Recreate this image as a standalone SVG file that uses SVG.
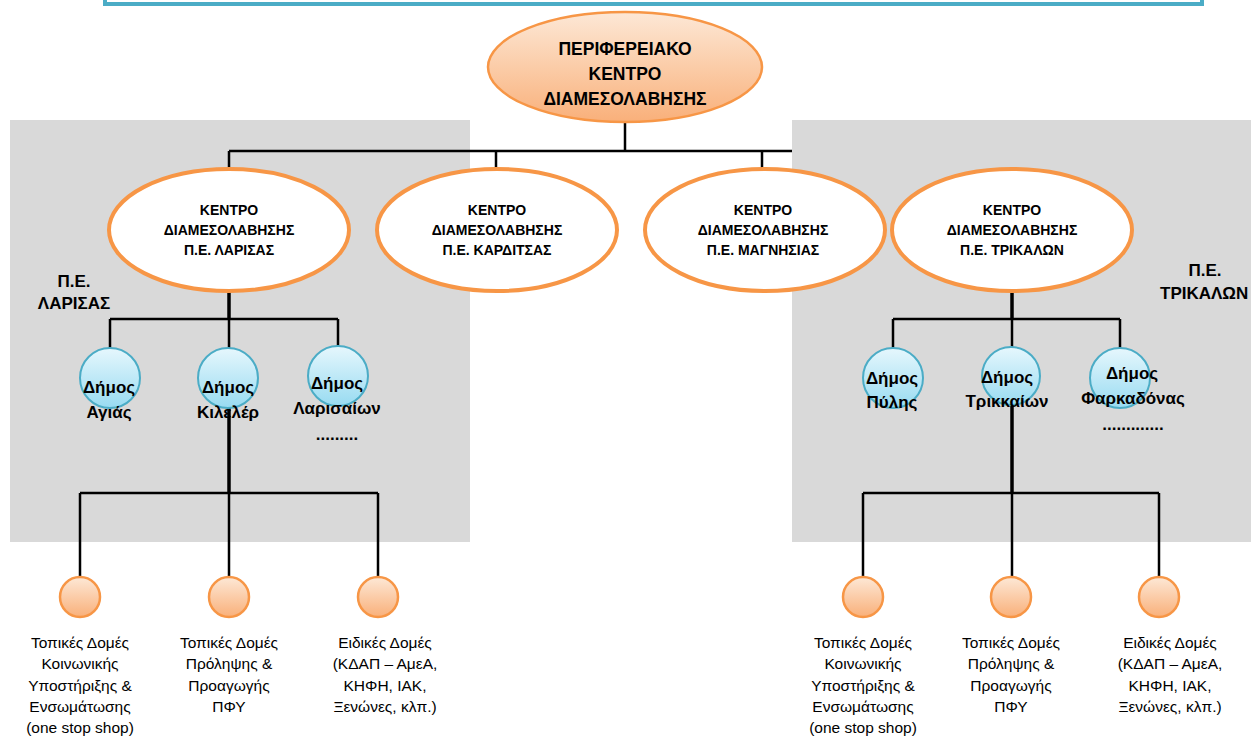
<svg xmlns="http://www.w3.org/2000/svg" width="1251" height="736" viewBox="0 0 1251 736">
<defs>
<linearGradient id="gOr" x1="0" y1="0" x2="0" y2="1">
<stop offset="0" stop-color="#FDE8D6"/>
<stop offset="1" stop-color="#F9B07A"/>
</linearGradient>
<linearGradient id="gBl" x1="0" y1="0" x2="0" y2="1">
<stop offset="0" stop-color="#E6F7FD"/>
<stop offset="1" stop-color="#98DBF1"/>
</linearGradient>
<style>
.zone{fill:#D9D9D9}
.top{fill:url(#gOr);stroke:#F79646;stroke-width:2.5}
.lvl2{fill:#FFFFFF;stroke:#F79646;stroke-width:4}
.dim{fill:url(#gBl);stroke:#4BACC6;stroke-width:2}
.unit{fill:url(#gOr);stroke:#F79646;stroke-width:2.5}
.ln{stroke:#000;stroke-width:2.5;fill:none}
.thk{stroke:#000;stroke-width:3.5;fill:none}
text{font-family:"Liberation Sans",Arial,sans-serif;fill:#000;text-anchor:middle}
.t1{font-size:17.5px;font-weight:bold}
.t2{font-size:14px;font-weight:bold}
.t3{font-size:17px;font-weight:bold}
.t4{font-size:15.5px}
</style>
</defs>
<rect x="105" y="-20" width="1097" height="24" fill="none" stroke="#4BACC6" stroke-width="4"/>
<rect class="zone" x="10" y="120" width="460" height="422"/>
<g id="connectors">
<line class="ln" x1="625" y1="122" x2="625" y2="151"/>
<line class="ln" x1="229" y1="151" x2="792" y2="151"/>
<line class="ln" x1="229" y1="151" x2="229" y2="170"/>
<line class="ln" x1="496" y1="151" x2="496" y2="170"/>
<line class="ln" x1="762" y1="151" x2="762" y2="170"/>
<line class="thk" x1="229" y1="290" x2="229" y2="319"/>
<line class="ln" x1="110" y1="319" x2="338" y2="319"/>
<line class="ln" x1="110" y1="319" x2="110" y2="349"/>
<line class="ln" x1="229" y1="319" x2="229" y2="349"/>
<line class="ln" x1="338" y1="319" x2="338" y2="349"/>
<line class="thk" x1="229" y1="405" x2="229" y2="493"/>
<line class="ln" x1="80" y1="493" x2="378" y2="493"/>
<line class="ln" x1="80" y1="493" x2="80" y2="577"/>
<line class="ln" x1="229" y1="493" x2="229" y2="577"/>
<line class="ln" x1="378" y1="493" x2="378" y2="577"/>
</g>
<rect class="zone" x="792" y="120" width="459" height="422"/>
<g id="connectors-right">
<line class="thk" x1="1012" y1="290" x2="1012" y2="319"/>
<line class="ln" x1="893" y1="319" x2="1120" y2="319"/>
<line class="ln" x1="893" y1="319" x2="893" y2="349"/>
<line class="ln" x1="1012" y1="319" x2="1012" y2="349"/>
<line class="ln" x1="1120" y1="319" x2="1120" y2="349"/>
<line class="thk" x1="1012" y1="405" x2="1012" y2="493"/>
<line class="ln" x1="863" y1="493" x2="1159" y2="493"/>
<line class="ln" x1="863" y1="493" x2="863" y2="577"/>
<line class="ln" x1="1012" y1="493" x2="1012" y2="577"/>
<line class="ln" x1="1159" y1="493" x2="1159" y2="577"/>
</g>
<g id="regional">
<ellipse class="top" cx="625" cy="67" rx="137" ry="55"/>
<text class="t1" x="625" y="55">ΠΕΡΙΦΕΡΕΙΑΚΟ</text>
<text class="t1" x="625" y="80">ΚΕΝΤΡΟ</text>
<text class="t1" x="625" y="105">ΔΙΑΜΕΣΟΛΑΒΗΣΗΣ</text>
</g>
<g id="c-larisa">
<ellipse class="lvl2" cx="229" cy="230" rx="120" ry="61"/>
<text class="t2" x="229" y="215">ΚΕΝΤΡΟ</text>
<text class="t2" x="229" y="235">ΔΙΑΜΕΣΟΛΑΒΗΣΗΣ</text>
<text class="t2" x="229" y="255">Π.Ε. ΛΑΡΙΣΑΣ</text>
</g>
<g id="c-karditsa">
<ellipse class="lvl2" cx="497" cy="230" rx="120" ry="61"/>
<text class="t2" x="497" y="215">ΚΕΝΤΡΟ</text>
<text class="t2" x="497" y="235">ΔΙΑΜΕΣΟΛΑΒΗΣΗΣ</text>
<text class="t2" x="497" y="255">Π.Ε. ΚΑΡΔΙΤΣΑΣ</text>
</g>
<g id="c-magnisia">
<ellipse class="lvl2" cx="765" cy="230" rx="120" ry="61"/>
<text class="t2" x="763" y="215">ΚΕΝΤΡΟ</text>
<text class="t2" x="763" y="235">ΔΙΑΜΕΣΟΛΑΒΗΣΗΣ</text>
<text class="t2" x="763" y="255">Π.Ε. ΜΑΓΝΗΣΙΑΣ</text>
</g>
<g id="c-trikala">
<ellipse class="lvl2" cx="1012" cy="230" rx="120" ry="61"/>
<text class="t2" x="1012" y="215">ΚΕΝΤΡΟ</text>
<text class="t2" x="1012" y="235">ΔΙΑΜΕΣΟΛΑΒΗΣΗΣ</text>
<text class="t2" x="1012" y="255">Π.Ε. ΤΡΙΚΑΛΩΝ</text>
</g>
<g id="lbl-larisa">
<text class="t3" x="74" y="287">Π.Ε.</text>
<text class="t3" x="74" y="309">ΛΑΡΙΣΑΣ</text>
</g>
<g id="lbl-trikala">
<text class="t3" x="1205" y="276">Π.Ε.</text>
<text class="t3" x="1160" y="299" style="text-anchor:start">ΤΡΙΚΑΛΩΝ</text>
</g>
<g id="d-agia">
<circle class="dim" cx="110" cy="378" r="30"/>
<text class="t3" x="109" y="393">Δήμος</text>
<text class="t3" x="109" y="418">Αγιάς</text>
</g>
<g id="d-kileler">
<circle class="dim" cx="228" cy="378" r="30"/>
<text class="t3" x="228" y="393">Δήμος</text>
<text class="t3" x="228" y="418">Κιλελέρ</text>
</g>
<g id="d-larisaion">
<circle class="dim" cx="338" cy="376" r="30"/>
<text class="t3" x="337" y="389">Δήμος</text>
<text class="t3" x="337" y="414">Λαρισαίων</text>
<text class="t3" x="337" y="440">.........</text>
</g>
<g id="d-pyli">
<circle class="dim" cx="893" cy="378" r="30"/>
<text class="t3" x="892" y="384">Δήμος</text>
<text class="t3" x="892" y="408">Πύλης</text>
</g>
<g id="d-trikkaion">
<circle class="dim" cx="1011" cy="376" r="29"/>
<text class="t3" x="1007" y="383">Δήμος</text>
<text class="t3" x="1007" y="407">Τρικκαίων</text>
</g>
<g id="d-farkadona">
<circle class="dim" cx="1120" cy="378" r="30"/>
<text class="t3" x="1132" y="379">Δήμος</text>
<text class="t3" x="1133" y="404">Φαρκαδόνας</text>
<text class="t3" x="1133" y="430">.............</text>
</g>
<g id="u-l1">
<circle class="unit" cx="80" cy="597" r="20"/>
<text class="t4" x="80" y="648">Τοπικές Δομές</text>
<text class="t4" x="80" y="669">Κοινωνικής</text>
<text class="t4" x="80" y="691">Υποστήριξης &amp;</text>
<text class="t4" x="80" y="712">Ενσωμάτωσης</text>
<text class="t4" x="80" y="733">(one stop shop)</text>
</g>
<g id="u-l2">
<circle class="unit" cx="229" cy="597" r="20"/>
<text class="t4" x="229" y="648">Τοπικές Δομές</text>
<text class="t4" x="229" y="669">Πρόληψης &amp;</text>
<text class="t4" x="229" y="691">Προαγωγής</text>
<text class="t4" x="229" y="712">ΠΦΥ</text>
</g>
<g id="u-l3">
<circle class="unit" cx="378" cy="597" r="20"/>
<text class="t4" x="385" y="648">Ειδικές Δομές</text>
<text class="t4" x="385" y="669">(ΚΔΑΠ – ΑμεΑ,</text>
<text class="t4" x="385" y="691">ΚΗΦΗ, ΙΑΚ,</text>
<text class="t4" x="385" y="712">Ξενώνες, κλπ.)</text>
</g>
<g id="u-r1">
<circle class="unit" cx="863" cy="597" r="20"/>
<text class="t4" x="863" y="648">Τοπικές Δομές</text>
<text class="t4" x="863" y="669">Κοινωνικής</text>
<text class="t4" x="863" y="691">Υποστήριξης &amp;</text>
<text class="t4" x="863" y="712">Ενσωμάτωσης</text>
<text class="t4" x="863" y="733">(one stop shop)</text>
</g>
<g id="u-r2">
<circle class="unit" cx="1011" cy="597" r="20"/>
<text class="t4" x="1011" y="648">Τοπικές Δομές</text>
<text class="t4" x="1011" y="669">Πρόληψης &amp;</text>
<text class="t4" x="1011" y="691">Προαγωγής</text>
<text class="t4" x="1011" y="712">ΠΦΥ</text>
</g>
<g id="u-r3">
<circle class="unit" cx="1159" cy="597" r="20"/>
<text class="t4" x="1170" y="648">Ειδικές Δομές</text>
<text class="t4" x="1170" y="669">(ΚΔΑΠ – ΑμεΑ,</text>
<text class="t4" x="1170" y="691">ΚΗΦΗ, ΙΑΚ,</text>
<text class="t4" x="1170" y="712">Ξενώνες, κλπ.)</text>
</g>
</svg>
